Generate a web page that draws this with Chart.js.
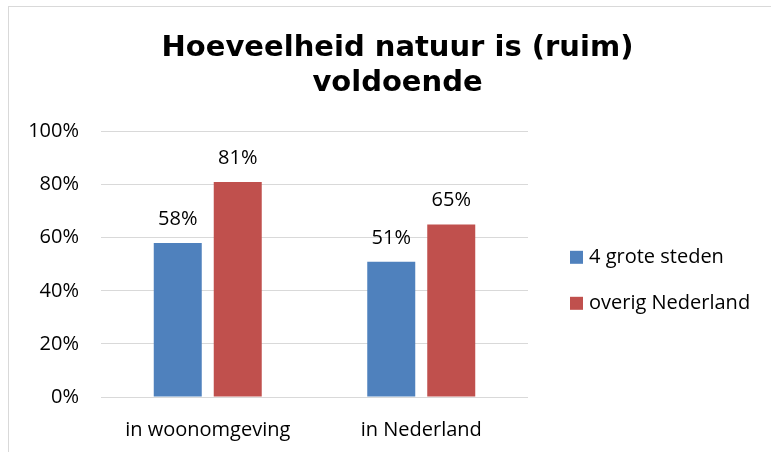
<!DOCTYPE html>
<html>
<head>
<meta charset="utf-8">
<title>Hoeveelheid natuur</title>
<script src="https://cdn.jsdelivr.net/npm/chart.js@4.4.1/dist/chart.umd.min.js"></script>
<style>
  html, body { margin: 0; padding: 0; background: #fff; }
  #wrap { position: relative; width: 771px; height: 452px; overflow: hidden; }
  #frame { position: absolute; left: 8px; top: 6px; width: 800px; height: 500px;
           border-top: 1px solid #d9d9d9; border-left: 1px solid #d9d9d9; }
  #chart { position: absolute; left: 0; top: 0; }
</style>
</head>
<body>
<div id="wrap">
  <div id="frame"></div>
  <canvas id="chart" width="771" height="452"></canvas>
</div>
<script>
const categories = ['in woonomgeving', 'in Nederland'];
const seriesNames = ['4 grote steden', 'overig Nederland'];
const groteSteden = [58, 51];
const overigNederland = [81, 65];
const yMax = 100;
const yStep = 20;

const labelFont = { family: '"Open Sans"', size: 20 };

// percentages above the bars
const barLabels = {
  id: 'barLabels',
  afterDatasetsDraw(chart) {
    const ctx = chart.ctx;
    ctx.save();
    ctx.font = '20px "Open Sans"';
    ctx.fillStyle = '#000';
    ctx.textAlign = 'center';
    ctx.textBaseline = 'alphabetic';
    chart.data.datasets.forEach((ds, i) => {
      chart.getDatasetMeta(i).data.forEach((bar, j) => {
        ctx.fillText(ds.data[j] + '%', bar.x, bar.y - 18);
      });
    });
    ctx.restore();
  }
};

// the built-in legend is capped in width when placed on the right,
// so the space is reserved by the spacer axis and the legend drawn here
const sideLegend = {
  id: 'sideLegend',
  afterDraw(chart) {
    const ctx = chart.ctx;
    const area = chart.chartArea;
    const x = area.right + 42;
    const mid = (area.top + area.bottom) / 2 + 16;
    ctx.save();
    ctx.font = '20px "Open Sans"';
    ctx.textAlign = 'left';
    ctx.textBaseline = 'middle';
    chart.data.datasets.forEach((ds, i) => {
      const y = mid + (i - 0.5) * 46;
      ctx.fillStyle = ds.backgroundColor;
      ctx.fillRect(x, y - 6.5, 13, 13);
      ctx.fillStyle = '#000';
      ctx.fillText(ds.label, x + 19, y);
    });
    ctx.restore();
  }
};

new Chart(document.getElementById('chart'), {
  type: 'bar',
  data: {
    labels: categories,
    datasets: [
      { label: seriesNames[0], data: groteSteden, backgroundColor: '#4f81bd' },
      { label: seriesNames[1], data: overigNederland, backgroundColor: '#c0504d' }
    ]
  },
  options: {
    responsive: false,
    animation: false,
    categoryPercentage: 0.562,
    barPercentage: 0.8,
    layout: { autoPadding: false, padding: { left: 28, right: 4, top: 0, bottom: -3 } },
    scales: {
      x: {
        grid: { display: false },
        border: { display: false },
        ticks: { color: '#000', font: labelFont, padding: 13 }
      },
      y: {
        min: 0,
        max: yMax,
        ticks: { stepSize: yStep, color: '#000', font: labelFont, padding: 22,
                 callback: v => v + '%' },
        grid: { color: '#d9d9d9', drawTicks: false },
        border: { display: false },
        afterFit(s) { s.width = 73; }
      },
      spacer: {
        position: 'right',
        grid: { display: false },
        ticks: { display: false },
        border: { display: false },
        afterFit(s) { s.width = 239; }
      }
    },
    plugins: {
      title: {
        display: true,
        text: ['Hoeveelheid natuur is (ruim)', 'voldoende'],
        color: '#000',
        font: { family: '"DejaVu Sans"', size: 29, weight: 'bold', lineHeight: 1.2 },
        padding: { top: 31, bottom: 31 }
      },
      legend: { display: false },
      tooltip: { enabled: false }
    }
  },
  plugins: [barLabels, sideLegend]
});
</script>
</body>
</html>
